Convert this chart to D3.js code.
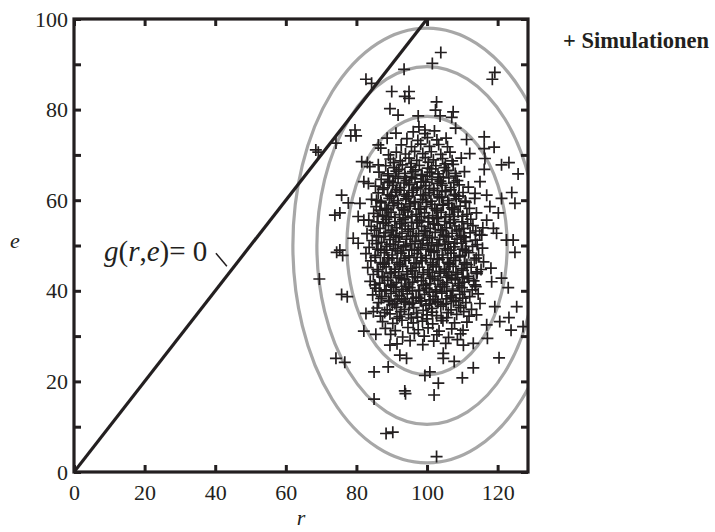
<!DOCTYPE html>
<html>
<head>
<meta charset="utf-8">
<script src="https://cdn.jsdelivr.net/npm/d3@7"></script>
<style>
  body { margin: 0; background: #fff; }
</style>
</head>
<body>
<svg id="chart" width="715" height="532" font-family="Liberation Serif"></svg>
<script>
"use strict";

// Axis ticks
const xTicks = [0, 20, 40, 60, 80, 100, 120];
const yTicks = [0, 10, 20, 30, 40, 50, 60, 70, 80, 90, 100];
const yLabelled = [0, 20, 40, 60, 80, 100];

// Limit state line g(r,e) = 0, i.e. e = r
const limitLine = [[0, 0], [100, 100]];
const limitLabel = "g(r,e)= 0";
const limitLabelPos = [8.5, 46.5];
const limitLeader = [[40.2, 48.3], [43.3, 45.4]];

// Contour ellipses around the mean (r, e) = (100, 50): semi-axes in data units
const ellipseCenter = [100, 50];
const ellipseRx = [22.7, 31.2, 38.0];
const ellipseRy = [28.5, 39.5, 48.0];

// Simulated points (r, e), sparse ones
const outerPoints = [
    [93.5, 88.9], [82.7, 86.7], [84.3, 85.8], [90.0, 84.0], [93.7, 82.9], [89.5, 80.2], [91.8, 78.8],
    [79.6, 75.5], [78.4, 74.2], [79.9, 74.2], [74.2, 72.6], [68.5, 71.1], [69.2, 70.6],
    [91.2, 74.8], [88.7, 73.7], [86.2, 72.2], [86.9, 71.5], [89.1, 70.0], [81.5, 68.5], [83.1, 68.3],
    [83.8, 67.4], [86.2, 67.8], [82.1, 64.1], [83.4, 63.7], [75.8, 61.1], [77.7, 59.4], [75.3, 57.2],
    [73.9, 56.7], [81.0, 59.3], [80.5, 56.4], [82.1, 55.6], [85.7, 60.0], [86.7, 57.8], [79.1, 51.6],
    [80.5, 50.5], [75.3, 49.0], [74.4, 48.5], [76.1, 47.8], [69.5, 42.6], [75.8, 39.2], [77.4, 38.7],
    [82.7, 35.0], [84.8, 35.4], [82.1, 31.1], [85.5, 30.4], [74.2, 25.1], [76.7, 24.2], [85.0, 22.1],
    [89.0, 23.2], [93.7, 17.9], [93.9, 17.3], [85.0, 16.1], [88.4, 8.5], [90.3, 8.8], [89.5, 28.0],
    [92.3, 25.8], [94.2, 25.1], [102.7, 3.4], [102.0, 17.0], [103.2, 19.6], [110.0, 20.8], [113.1, 23.0],
    [107.7, 24.4], [99.4, 21.3], [100.8, 22.1], [120.4, 25.2], [127.2, 32.1], [123.8, 31.3],
    [123.2, 34.1], [125.4, 36.5], [123.0, 40.7], [119.2, 36.5], [116.9, 32.5], [117.1, 29.5],
    [113.1, 28.4], [110.3, 28.0], [104.6, 26.2], [104.6, 25.1], [120.6, 33.2], [124.9, 48.5],
    [121.1, 42.8], [118.1, 45.0], [118.3, 42.0], [114.0, 43.9], [113.8, 40.9], [115.0, 37.2],
    [114.0, 34.7], [103.9, 92.6], [101.5, 90.2], [119.2, 88.2], [118.5, 86.7], [94.9, 84.0],
    [94.9, 82.5], [102.7, 81.7], [102.4, 79.9], [103.7, 78.6], [107.4, 79.5], [107.0, 78.3],
    [108.1, 75.9], [97.5, 78.6], [97.7, 76.2], [116.2, 74.0], [111.2, 73.4], [119.0, 71.7],
    [116.2, 71.4], [112.1, 70.3], [121.1, 67.8], [123.2, 68.3], [125.8, 65.8], [116.4, 69.2],
    [116.2, 66.8], [115.0, 64.1], [116.9, 61.1], [113.6, 61.5], [121.1, 60.4], [124.0, 61.7],
    [124.9, 59.3], [117.8, 58.6], [120.2, 57.2], [116.9, 55.6], [118.8, 53.8], [119.7, 52.7],
    [115.5, 52.3], [122.5, 51.2], [124.4, 51.2], [99.4, 75.5]
];

// Dense core of the cloud, estimated (too crowded to read one by one)
const corePoints = [
    [91.5, 28.3], [95.2, 29.0], [98.8, 28.1], [101.9, 28.9], [105.3, 28.4], [108.6, 29.2],
    [89.7, 30.4], [93.1, 29.8], [96.4, 30.6], [99.2, 30.0], [102.8, 30.3], [106.1, 29.7], [109.5, 30.5],
    [88.2, 31.7], [91.0, 31.2], [94.6, 31.9], [97.5, 31.4], [100.3, 31.8], [103.4, 31.1], [107.0, 31.6], [110.2, 31.3],
    [87.4, 33.2], [90.3, 32.8], [92.9, 33.5], [96.1, 32.9], [98.7, 33.3], [101.6, 32.7], [104.5, 33.4], [107.8, 32.9], [111.3, 33.1],
    [86.8, 34.4], [89.5, 34.9], [92.2, 34.3], [94.8, 34.8], [97.3, 34.2], [100.0, 34.7], [102.7, 34.5], [105.6, 34.1], [108.4, 34.8], [111.9, 34.4],
    [85.9, 36.2], [88.7, 35.8], [91.4, 36.4], [93.6, 35.9], [96.2, 36.3], [98.9, 35.7], [101.3, 36.1], [103.9, 36.6], [106.8, 35.8], [109.5, 36.3], [112.6, 35.9],
    [86.3, 37.4], [89.1, 37.9], [90.9, 37.2], [93.5, 37.7], [95.8, 37.3], [98.1, 37.8], [100.6, 37.1], [102.9, 37.6], [105.4, 37.2], [108.2, 37.9], [111.0, 37.4],
    [84.6, 39.1], [87.2, 38.7], [89.8, 39.4], [92.1, 38.9], [94.4, 39.3], [96.9, 38.6], [99.3, 39.2], [101.7, 38.8], [104.2, 39.5], [106.6, 38.9], [109.3, 39.2], [112.1, 38.7], [114.5, 39.3],
    [85.5, 40.6], [88.0, 40.2], [90.6, 40.8], [92.8, 40.3], [95.1, 40.7], [97.6, 40.1], [99.9, 40.6], [102.4, 40.2], [104.9, 40.9], [107.3, 40.4], [109.9, 40.7], [112.8, 40.2],
    [83.9, 42.1], [86.6, 41.7], [88.9, 42.3], [91.3, 41.8], [93.7, 42.4], [95.9, 41.9], [98.4, 42.2], [100.8, 41.6], [103.1, 42.3], [105.6, 41.8], [108.0, 42.4], [110.5, 41.9], [113.2, 42.2],
    [84.8, 43.6], [87.3, 43.2], [89.6, 43.8], [92.0, 43.3], [94.5, 43.7], [96.7, 43.1], [99.0, 43.6], [101.5, 43.2], [103.8, 43.9], [106.2, 43.4], [108.7, 43.7], [111.4, 43.2], [114.1, 43.8],
    [83.2, 45.1], [85.9, 44.7], [88.4, 45.3], [90.8, 44.8], [93.1, 45.4], [95.4, 44.9], [97.8, 45.2], [100.2, 44.6], [102.6, 45.3], [104.9, 44.8], [107.4, 45.4], [109.8, 44.9], [112.5, 45.2], [115.3, 44.7],
    [84.1, 46.6], [86.8, 46.2], [89.2, 46.8], [91.5, 46.3], [93.9, 46.7], [96.3, 46.1], [98.6, 46.6], [101.0, 46.2], [103.4, 46.9], [105.8, 46.3], [108.1, 46.7], [110.7, 46.2], [113.4, 46.8], [116.0, 46.4],
    [82.7, 48.2], [85.4, 47.8], [87.9, 48.4], [90.2, 47.9], [92.6, 48.3], [94.9, 47.7], [97.2, 48.2], [99.7, 47.8], [102.0, 48.5], [104.3, 47.9], [106.8, 48.3], [109.2, 47.8], [111.8, 48.4], [114.6, 47.9],
    [83.6, 49.6], [86.1, 49.2], [88.6, 49.8], [91.0, 49.3], [93.4, 49.7], [95.7, 49.1], [98.1, 49.6], [100.5, 49.2], [102.8, 49.9], [105.2, 49.3], [107.6, 49.7], [110.1, 49.2], [112.9, 49.8], [115.7, 49.4],
    [84.5, 51.1], [87.1, 50.7], [89.5, 51.3], [91.9, 50.8], [94.2, 51.4], [96.6, 50.9], [98.9, 51.2], [101.3, 50.6], [103.6, 51.3], [106.0, 50.8], [108.5, 51.4], [111.0, 50.9], [113.7, 51.2],
    [83.0, 52.6], [85.7, 52.2], [88.2, 52.8], [90.5, 52.3], [92.9, 52.7], [95.3, 52.1], [97.6, 52.6], [100.0, 52.2], [102.3, 52.9], [104.7, 52.3], [107.1, 52.7], [109.6, 52.2], [112.2, 52.8], [114.9, 52.4],
    [84.2, 54.2], [86.7, 53.8], [89.1, 54.4], [91.4, 53.9], [93.8, 54.3], [96.1, 53.7], [98.5, 54.2], [100.9, 53.8], [103.2, 54.5], [105.5, 53.9], [107.9, 54.3], [110.4, 53.8], [113.0, 54.4], [115.8, 53.9],
    [83.5, 55.6], [85.9, 55.2], [88.5, 55.8], [90.9, 55.3], [93.2, 55.7], [95.6, 55.1], [97.9, 55.6], [100.3, 55.2], [102.7, 55.9], [105.0, 55.3], [107.5, 55.7], [109.9, 55.2], [112.4, 55.8],
    [84.9, 57.1], [87.4, 56.7], [89.8, 57.3], [92.2, 56.8], [94.6, 57.4], [96.9, 56.9], [99.3, 57.2], [101.6, 56.6], [104.0, 57.3], [106.4, 56.8], [108.8, 57.4], [111.3, 56.9], [114.0, 57.2],
    [85.6, 58.6], [88.1, 58.2], [90.4, 58.8], [92.8, 58.3], [95.1, 58.7], [97.5, 58.1], [99.8, 58.6], [102.2, 58.2], [104.6, 58.9], [107.0, 58.3], [109.4, 58.7], [112.0, 58.2],
    [84.3, 60.2], [86.9, 59.8], [89.3, 60.4], [91.7, 59.9], [94.0, 60.3], [96.4, 59.7], [98.7, 60.2], [101.1, 59.8], [103.5, 60.5], [105.9, 59.9], [108.3, 60.3], [110.8, 59.8], [113.5, 60.4],
    [86.2, 61.6], [88.8, 61.2], [91.1, 61.8], [93.5, 61.3], [95.8, 61.7], [98.2, 61.1], [100.6, 61.6], [102.9, 61.2], [105.3, 61.9], [107.7, 61.3], [110.2, 61.7],
    [85.4, 63.1], [87.8, 62.7], [90.2, 63.3], [92.5, 62.8], [94.9, 63.4], [97.2, 62.9], [99.6, 63.2], [101.9, 62.6], [104.3, 63.3], [106.7, 62.8], [109.1, 63.4], [111.7, 62.9],
    [87.0, 64.6], [89.4, 64.2], [91.8, 64.8], [94.2, 64.3], [96.6, 64.7], [99.0, 64.1], [101.4, 64.6], [103.8, 64.2], [106.2, 64.9], [108.6, 64.3],
    [86.4, 66.2], [88.9, 65.8], [91.3, 66.4], [93.7, 65.9], [96.0, 66.3], [98.4, 65.7], [100.8, 66.2], [103.1, 65.8], [105.5, 66.5], [108.0, 65.9], [110.6, 66.3],
    [88.3, 67.6], [90.7, 67.2], [93.0, 67.8], [95.4, 67.3], [97.8, 67.7], [100.2, 67.1], [102.5, 67.6], [104.9, 67.2], [107.4, 67.9],
    [89.6, 69.1], [92.4, 68.7], [94.9, 69.3], [97.1, 68.8], [99.5, 69.4], [101.8, 68.9], [104.4, 69.2], [107.1, 68.7], [109.7, 69.3],
    [91.3, 70.6], [93.9, 70.2], [96.5, 70.8], [98.8, 70.3], [101.2, 70.7], [103.9, 70.1], [106.5, 70.6],
    [92.7, 72.2], [95.6, 71.8], [98.2, 72.4], [100.7, 71.9], [103.3, 72.3], [105.8, 71.8],
    [94.3, 73.6], [97.4, 73.2], [100.1, 73.8], [102.8, 73.3], [105.4, 73.7],
    [96.1, 75.1], [99.4, 74.7], [102.1, 75.3],
    [92.8, 38.2], [97.7, 38.4], [102.3, 38.1], [106.9, 38.5],
    [89.9, 44.1], [94.3, 44.2], [98.9, 44.0], [103.5, 44.3], [108.2, 44.1],
    [88.9, 47.3], [93.6, 47.2], [98.3, 47.4], [102.9, 47.1], [107.6, 47.3],
    [89.5, 50.3], [94.0, 50.1], [98.6, 50.4], [103.2, 50.2], [107.9, 50.5],
    [90.1, 53.4], [94.7, 53.1], [99.2, 53.3], [103.9, 53.5], [108.4, 53.2],
    [89.2, 56.3], [93.8, 56.1], [98.4, 56.4], [103.1, 56.2], [107.7, 56.4],
    [90.6, 59.4], [95.3, 59.2], [99.9, 59.5], [104.5, 59.1],
    [91.4, 62.4], [96.1, 62.2], [100.7, 62.5], [105.2, 62.1]
];

// Extra crowding in the darkest middle part of the cloud, estimated
const centerPoints = [
    [91.5, 33.9], [95.5, 34.0], [99.9, 33.8], [104.0, 34.0],
    [90.2, 36.9], [95.0, 37.0], [99.7, 36.8], [104.6, 37.0], [109.0, 36.8],
    [86.5, 39.9], [91.2, 39.8], [95.8, 40.0], [100.6, 39.7], [105.5, 39.9], [110.6, 39.8],
    [89.7, 41.1], [94.0, 41.0], [98.9, 41.2], [103.7, 40.9], [108.8, 41.1],
    [87.9, 42.9], [92.7, 42.7], [97.3, 42.9], [102.1, 42.6], [106.9, 42.8], [111.8, 42.7],
    [87.5, 45.9], [92.1, 45.8], [96.9, 46.0], [101.7, 45.7], [106.5, 45.9], [111.3, 45.8],
    [86.9, 48.9], [91.6, 48.8], [96.4, 49.0], [101.1, 48.7], [105.9, 48.9], [110.8, 48.8],
    [86.3, 51.9], [91.2, 51.8], [95.9, 52.0], [100.7, 51.7], [105.4, 51.9], [110.3, 51.8],
    [87.6, 54.9], [92.3, 54.8], [97.1, 55.0], [101.8, 54.7], [106.6, 54.9], [111.5, 54.8],
    [88.6, 57.9], [93.4, 57.8], [98.0, 58.0], [102.9, 57.7], [107.7, 57.9],
    [90.0, 60.9], [94.8, 60.8], [99.5, 61.0], [104.2, 60.7], [109.0, 60.9],
    [88.9, 63.9], [93.5, 63.8], [98.3, 64.0], [103.0, 63.7], [107.6, 63.9],
    [91.0, 65.2], [95.6, 65.1], [100.1, 65.3], [104.6, 65.1],
    [88.0, 35.2], [92.6, 35.4], [97.0, 35.1], [101.5, 35.3], [106.0, 35.2], [110.4, 35.4],
    [87.0, 38.3], [91.6, 38.1], [96.1, 38.3], [100.9, 38.0], [105.6, 38.2], [110.1, 38.4],
    [85.2, 41.3], [90.0, 41.4], [94.8, 41.5], [99.6, 41.3], [104.4, 41.4], [109.2, 41.6], [113.6, 41.3],
    [86.2, 44.3], [91.0, 44.2], [95.8, 44.4], [100.6, 44.1], [105.4, 44.3], [110.2, 44.5], [114.2, 44.2],
    [85.3, 47.4], [90.1, 47.2], [94.9, 47.4], [99.7, 47.1], [104.5, 47.3], [109.3, 47.5], [113.9, 47.2],
    [85.7, 50.4], [90.5, 50.2], [95.3, 50.4], [100.1, 50.1], [104.9, 50.3], [109.7, 50.5], [114.2, 50.2],
    [85.1, 53.4], [89.9, 53.2], [94.7, 53.6], [99.5, 53.1], [104.3, 53.3], [109.1, 53.5], [113.8, 53.2],
    [86.1, 56.4], [90.9, 56.2], [95.7, 56.5], [100.5, 56.1], [105.3, 56.3], [110.1, 56.5],
    [87.0, 59.4], [91.8, 59.2], [96.6, 59.5], [101.4, 59.1], [106.2, 59.3], [111.0, 59.5],
    [87.5, 62.4], [92.3, 62.2], [97.1, 62.5], [101.9, 62.1], [106.7, 62.3],
    [89.0, 65.4], [93.8, 65.2], [98.6, 65.5], [103.4, 65.1], [108.2, 65.3],
    [90.5, 68.3], [95.5, 68.1], [100.4, 68.4], [105.2, 68.0],
    [89.4, 37.6], [93.9, 37.5], [98.5, 37.7], [103.1, 37.4], [107.5, 37.6],
    [88.4, 40.0], [93.2, 39.9], [97.9, 40.1], [102.7, 39.8], [107.2, 40.0],
    [87.4, 43.0], [91.9, 42.9], [96.4, 43.1], [101.0, 42.8], [105.7, 43.0], [110.0, 42.9],
    [87.9, 46.0], [92.4, 45.9], [97.0, 46.1], [101.6, 45.8], [106.2, 46.0], [110.6, 45.9],
    [88.4, 49.0], [92.9, 48.9], [97.5, 49.1], [102.1, 48.8], [106.7, 49.0], [111.1, 48.9],
    [87.8, 52.0], [92.3, 51.9], [96.9, 52.1], [101.5, 51.8], [106.1, 52.0], [110.6, 51.9],
    [88.2, 55.0], [92.8, 54.9], [97.4, 55.1], [102.0, 54.8], [106.5, 55.0],
    [89.0, 58.0], [93.6, 57.9], [98.2, 58.1], [102.7, 57.8], [107.3, 58.0],
    [89.8, 61.0], [94.3, 60.9], [98.9, 61.1], [103.5, 60.8], [108.0, 61.0],
    [90.4, 63.9], [95.0, 63.8], [99.6, 64.0], [104.1, 63.7],
    [92.0, 66.8], [96.7, 66.7], [101.3, 66.9], [106.0, 66.6]
];

const legendText = "+ Simulationen";
const xTitle = "r";
const yTitle = "e";

const ink = "#231f20";
const grey = "#a7a7a7";
const serif = "Liberation Serif";

const plot = {left: 74, right: 528, top: 19, bottom: 472};

const svg = d3.select("#chart");

const x = d3.scaleLinear().domain([0, 128.6]).range([plot.left, plot.right]);
const y = d3.scaleLinear().domain([0, 100]).range([plot.bottom, plot.top]);

svg.append("defs").append("clipPath")
    .attr("id", "plotClip")
    .append("rect")
    .attr("x", plot.left)
    .attr("y", plot.top)
    .attr("width", plot.right - plot.left)
    .attr("height", plot.bottom - plot.top);

const inner = svg.append("g").attr("clip-path", "url(#plotClip)");

// Contour ellipses
inner.append("g")
    .selectAll("ellipse")
    .data(ellipseRx.map((rx, i) => ({rx: rx, ry: ellipseRy[i]})))
    .join("ellipse")
    .attr("cx", x(ellipseCenter[0]))
    .attr("cy", y(ellipseCenter[1]))
    .attr("rx", (d) => x(ellipseCenter[0] + d.rx) - x(ellipseCenter[0]))
    .attr("ry", (d) => y(ellipseCenter[1]) - y(ellipseCenter[1] + d.ry))
    .attr("fill", "none")
    .attr("stroke", grey)
    .attr("stroke-width", 3.2);

// Simulation crosses
const half = 6;
inner.append("g")
    .selectAll("path")
    .data(corePoints.concat(centerPoints, outerPoints))
    .join("path")
    .attr("d", (d) => {
        const cx = x(d[0]), cy = y(d[1]);
        return `M${cx - half},${cy}H${cx + half}M${cx},${cy - half}V${cy + half}`;
    })
    .attr("stroke", ink)
    .attr("stroke-width", 1.7)
    .attr("fill", "none");

// Limit state line
inner.append("path")
    .datum(limitLine)
    .attr("d", d3.line().x((d) => x(d[0])).y((d) => y(d[1])))
    .attr("stroke", ink)
    .attr("stroke-width", 3.2)
    .attr("fill", "none");

svg.append("path")
    .datum(limitLeader)
    .attr("d", d3.line().x((d) => x(d[0])).y((d) => y(d[1])))
    .attr("stroke", ink)
    .attr("stroke-width", 1.5)
    .attr("fill", "none");

const gLabel = svg.append("text")
    .attr("x", x(limitLabelPos[0]))
    .attr("y", y(limitLabelPos[1]))
    .attr("font-family", serif)
    .attr("font-size", 29)
    .attr("fill", ink);
gLabel.append("tspan").attr("font-style", "italic").text(limitLabel.slice(0, 1));
gLabel.append("tspan").text("(");
gLabel.append("tspan").attr("font-style", "italic").text(limitLabel.slice(2, 3));
gLabel.append("tspan").text(",");
gLabel.append("tspan").attr("font-style", "italic").text(limitLabel.slice(4, 5));
gLabel.append("tspan").text(limitLabel.slice(5));

// Axes, ticks pointing inside
function styleAxis(g) {
    g.attr("font-family", serif);
    g.select(".domain").remove();
    g.selectAll(".tick line").attr("stroke", ink).attr("stroke-width", 3);
    g.selectAll(".tick text")
        .attr("fill", ink)
        .attr("font-family", serif)
        .attr("font-size", 22);
}

svg.append("g")
    .attr("transform", `translate(0,${plot.bottom})`)
    .call(d3.axisBottom(x).tickValues(xTicks).tickSize(-7).tickPadding(12))
    .call(styleAxis);

svg.append("g")
    .attr("transform", `translate(0,${plot.top})`)
    .call(d3.axisTop(x).tickValues(xTicks).tickSize(-7).tickFormat(""))
    .call(styleAxis);

svg.append("g")
    .attr("transform", `translate(${plot.left},0)`)
    .call(d3.axisLeft(y).tickValues(yTicks).tickSize(-7).tickPadding(6)
        .tickFormat((d) => yLabelled.includes(d) ? d : ""))
    .call(styleAxis);

svg.append("g")
    .attr("transform", `translate(${plot.right},0)`)
    .call(d3.axisRight(y).tickValues(yTicks).tickSize(-7).tickFormat(""))
    .call(styleAxis);

// Frame
svg.append("rect")
    .attr("x", plot.left)
    .attr("y", plot.top)
    .attr("width", plot.right - plot.left)
    .attr("height", plot.bottom - plot.top)
    .attr("fill", "none")
    .attr("stroke", ink)
    .attr("stroke-width", 3.2);

// Axis titles
svg.append("text")
    .attr("x", (plot.left + plot.right) / 2)
    .attr("y", 525)
    .attr("text-anchor", "middle")
    .attr("font-family", serif)
    .attr("font-style", "italic")
    .attr("font-size", 22)
    .attr("fill", ink)
    .text(xTitle);

svg.append("text")
    .attr("x", 15)
    .attr("y", 248)
    .attr("text-anchor", "middle")
    .attr("font-family", serif)
    .attr("font-style", "italic")
    .attr("font-size", 22)
    .attr("fill", ink)
    .text(yTitle);

// Legend
svg.append("text")
    .attr("x", 563)
    .attr("y", 48)
    .attr("font-family", serif)
    .attr("font-weight", "bold")
    .attr("font-size", 22.5)
    .attr("fill", ink)
    .text(legendText);
</script>
</body>
</html>
